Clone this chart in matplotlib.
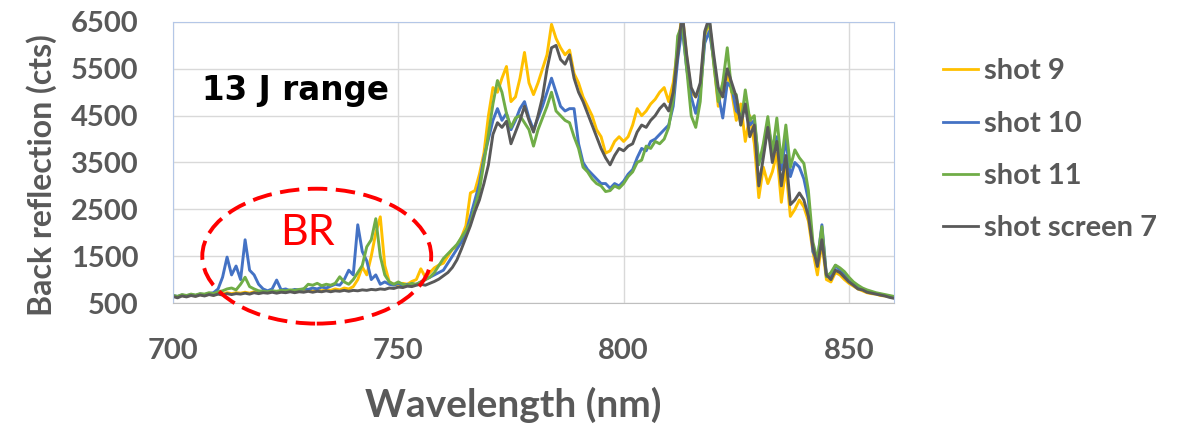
import numpy as np
import matplotlib
matplotlib.use("Agg")
import matplotlib.pyplot as plt
from matplotlib.patches import Ellipse

# wavelength grid (nm), 1 nm steps
wavelength = np.arange(700, 861)

shot9 = [
    650, 630, 660, 640, 670, 650, 680, 660, 690, 670,
    700, 690, 720, 700, 720, 710, 730, 710, 740, 720,
    740, 730, 750, 730, 750, 740, 760, 740, 760, 750,
    770, 750, 780, 760, 790, 770, 800, 780, 820, 800,
    850, 1000, 1270, 1100, 1500, 2000, 2340, 1300, 950, 900,
    880, 920, 900, 960, 1000, 1230, 1050, 1150, 1250, 1310,
    1350, 1500, 1650, 1700, 1900, 2150, 2850, 2900, 3250, 3700,
    4500, 5100, 5000, 5300, 5550, 4800, 4900, 5300, 5850, 5200,
    4950, 5200, 5500, 5800, 6450, 6150, 5950, 5800, 5900, 5400,
    5200, 4900, 4700, 4500, 4200, 4050, 3700, 3750, 3950, 4050,
    3950, 4050, 4300, 4650, 4500, 4600, 4750, 4850, 5000, 5100,
    4800, 5200, 5950, 6700, 5750, 5000, 4900, 5100, 6200, 6500,
    5650, 4700, 5200, 5350, 5000, 4400, 4750, 3950, 4500, 3900,
    2750, 3400, 3050, 3300, 3700, 2650, 3400, 2350, 2500, 2700,
    2550, 2250, 1600, 1100, 1800, 1000, 950, 1150, 1100, 1000,
    920, 860, 800, 760, 720, 700, 690, 660, 650, 640, 620,
]

shot10 = [
    660, 640, 670, 650, 680, 660, 690, 680, 700, 720,
    800, 1050, 1480, 1100, 1290, 1000, 1850, 1200, 1100, 900,
    800, 760, 800, 990, 780, 800, 760, 790, 780, 800,
    790, 820, 800, 840, 820, 860, 900, 880, 1000, 1200,
    1100, 2170, 1600, 1400, 1000, 1100, 900, 950, 900, 880,
    920, 870, 900, 880, 900, 950, 1000, 1050, 1100, 1150,
    1200, 1350, 1500, 1650, 1800, 2000, 2350, 2700, 3050, 3600,
    4000, 4400, 4650, 4400, 4550, 4200, 4400, 4650, 4800, 4450,
    4200, 4450, 4700, 5000, 5300, 5000, 4700, 4600, 4650, 4650,
    3900, 3500, 3350, 3250, 3150, 3050, 3050, 2950, 3050, 3000,
    3100, 3250, 3350, 3600, 3800, 3750, 3950, 4000, 4100, 4200,
    4300, 4700, 5700, 6400, 5500, 4900, 4550, 5000, 6050, 6300,
    5700, 4950, 4450, 5200, 5100, 4600, 4500, 4700, 4300, 4400,
    3500, 3700, 4300, 3800, 4050, 3350, 4000, 3200, 3500, 3400,
    3150, 2700, 1600, 1400, 2170, 1100, 1050, 1300, 1200, 1100,
    1000, 920, 850, 800, 760, 730, 700, 680, 660, 640, 620,
]

shot11 = [
    660, 640, 680, 660, 690, 670, 700, 690, 720, 700,
    740, 760, 800, 820, 780, 900, 1050, 850, 800, 760,
    750, 740, 760, 750, 770, 760, 780, 770, 790, 800,
    900, 880, 920, 870, 900, 880, 920, 1060, 950, 900,
    1000, 1150, 1300, 1700, 1850, 2300, 1500, 1100, 950, 900,
    950, 900, 880, 920, 900, 950, 1000, 1050, 1150, 1300,
    1450, 1550, 1650, 1750, 1900, 2050, 2200, 2550, 2900, 3500,
    4100, 4750, 5250, 5000, 4550, 4250, 4450, 4500, 4350, 4200,
    3850, 4200, 4450, 4700, 5000, 4600, 4500, 4400, 4350, 4050,
    3800, 3400, 3300, 3150, 3050, 3000, 2880, 2900, 3000, 2950,
    3050, 3200, 3300, 3500, 3550, 3850, 3800, 3950, 3900, 4000,
    4250, 4850, 6200, 6450, 5500, 4500, 4250, 4800, 6250, 6550,
    5600, 4800, 5200, 5950, 5000, 4950, 4300, 5050, 4400, 4500,
    3450, 3900, 4480, 3700, 4450, 3500, 4300, 3400, 3770, 3600,
    3480, 2900, 1800, 1420, 2130, 1060, 1150, 1310, 1250, 1170,
    1050, 950, 880, 820, 780, 750, 720, 700, 680, 660, 640,
]

shot_screen7 = [
    640, 610, 650, 630, 660, 640, 670, 650, 680, 660,
    690, 670, 700, 680, 700, 690, 710, 690, 720, 700,
    720, 710, 730, 710, 730, 720, 740, 720, 740, 730,
    750, 730, 750, 740, 760, 740, 760, 750, 770, 750,
    770, 760, 780, 770, 790, 780, 800, 790, 820, 810,
    840, 830, 860, 850, 880, 900, 880, 920, 960, 1010,
    1080, 1150, 1260, 1420, 1650, 1900, 2150, 2450, 2700, 3050,
    3450, 4100, 4350, 4250, 4380, 3900, 4150, 4400, 4700, 4400,
    4150, 4500, 4900, 5500, 5950, 6000, 5700, 5600, 5800, 5300,
    5000, 4800, 4550, 4300, 4050, 3800, 3600, 3450, 3650, 3800,
    3750, 3850, 3900, 4150, 4300, 4250, 4400, 4500, 4650, 4750,
    4600, 5000, 5800, 6700, 5800, 5100, 4900, 5200, 6300, 6600,
    5800, 5100, 4900, 5500, 5200, 4900, 4300, 4750, 4050, 4300,
    3000, 3600, 4250, 3500, 3950, 3000, 3650, 2600, 2700, 2850,
    2700, 2350, 1700, 1280, 1850, 1100, 1000, 1200, 1150, 1050,
    950, 880, 800, 780, 730, 710, 690, 670, 650, 620, 600,
]

series_labels = ["shot 9", "shot 10", "shot 11", "shot screen 7"]
series_colors = ["#FFC000", "#4472C4", "#70AD47", "#595959"]
y_ticks = [500, 1500, 2500, 3500, 4500, 5500, 6500]
x_ticks = [700, 750, 800, 850]

txt_grey = "#595959"
font = "Lato"

fig = plt.figure(figsize=(11.91, 4.32), dpi=100)
ax = fig.add_axes([173 / 1191, 1 - 303 / 432, 721 / 1191, 281 / 432])

for vals, lab, col in zip([shot9, shot10, shot11, shot_screen7], series_labels, series_colors):
    ax.plot(wavelength, vals, color=col, lw=2.1, label=lab)

ax.set_xlim(700, 860)
ax.set_ylim(500, 6500)
ax.set_xticks(x_ticks)
ax.set_yticks(y_ticks)
ax.grid(True, color="#d9d9d9", lw=1.0)
ax.set_axisbelow(True)
ax.tick_params(length=0, labelsize=21, labelcolor=txt_grey, pad=25)
for lbl in ax.get_xticklabels() + ax.get_yticklabels():
    lbl.set_fontfamily(font)
    lbl.set_fontweight("bold")

for side in ["top", "right", "left"]:
    ax.spines[side].set_color("#b4c7e7")
ax.spines["bottom"].set_color("#bfbfbf")

fig.text(513 / 1191, 1 - 405 / 432, "Wavelength (nm)", ha="center", va="center",
         fontsize=28, fontweight="bold", color=txt_grey, family=font)
fig.text(42 / 1191, 1 - 175 / 432, "Back reflection (cts)", ha="center", va="center",
         rotation=90, fontsize=23, fontweight="bold", color=txt_grey, family=font)

ax.text(0.040, 0.722, "13 J range", transform=ax.transAxes, ha="left", va="baseline",
        fontsize=23.5, fontweight="bold", color="black", family="DejaVu Sans")
ax.text(0.186, 0.206, "BR", transform=ax.transAxes, ha="center", va="baseline",
        fontsize=31, color="#FF0000", family=font)

ell = Ellipse((731.9, 1500), 50.8, 2880, fill=False, edgecolor="#FF0000", lw=2.8,
              linestyle=(0, (5, 2.2)), clip_on=False, zorder=5)
ax.add_patch(ell)

leg = ax.legend(loc="center left", bbox_to_anchor=(1.068, 0.545), frameon=False,
                borderaxespad=0, borderpad=0, handlelength=1.2, handletextpad=0.2,
                labelspacing=0.9, prop={"family": font, "weight": "bold", "size": 21})
for t in leg.get_texts():
    t.set_color(txt_grey)
for h in leg.get_lines():
    h.set_linewidth(2.0)

fig.savefig("out.png", dpi=100)
